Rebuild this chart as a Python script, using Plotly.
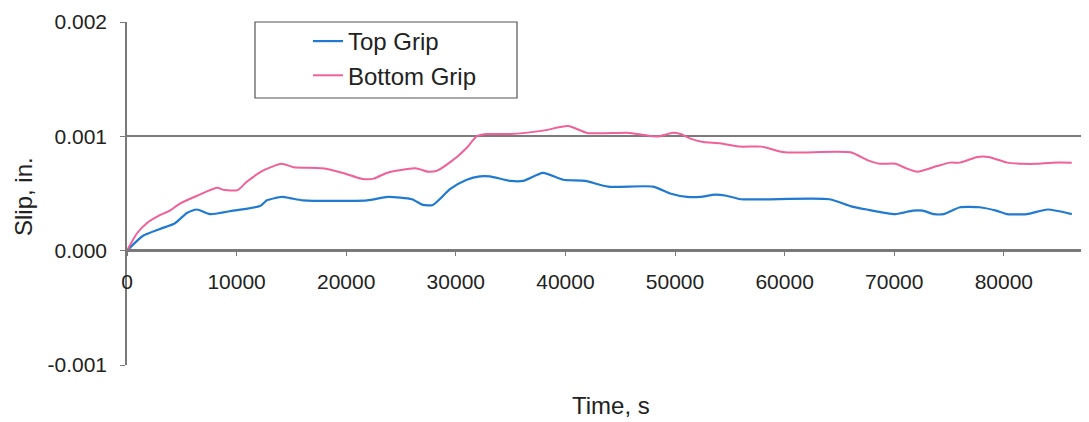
import plotly.graph_objects as go

# ---- data ----
top_t = [0, 1460, 3000, 4380, 5470, 6380, 7570, 9700, 12140, 12770, 14140, 14870, 16060,
         21900, 23800, 26000, 27000, 27900, 29500, 31000, 32200, 33100, 34950, 36150,
         37950, 39800, 41800, 43900, 48000, 49550, 51100, 52300, 53650, 54700, 56000,
         64100, 66000, 67500, 70100, 71700, 72600, 73600, 74500, 76000, 77800, 79300,
         80300, 82100, 84000, 86200]
top_v = [0.0, 0.00013, 0.00019, 0.00024, 0.00033, 0.00036, 0.00032, 0.00035, 0.00039, 0.00044,
         0.00047, 0.00046, 0.00044, 0.00044, 0.00047, 0.00045, 0.00040, 0.00040, 0.00054,
         0.00062, 0.00065, 0.00065, 0.00061, 0.00061, 0.00068, 0.00062, 0.00061, 0.00056,
         0.00056, 0.00050, 0.00047, 0.00047, 0.00049, 0.00048, 0.00045, 0.00045, 0.00039,
         0.00036, 0.00032, 0.00035, 0.00035, 0.00032, 0.00032, 0.00038, 0.00038, 0.00035,
         0.00032, 0.00032, 0.00036, 0.00032]

bot_t = [0, 900, 1800, 3000, 3900, 4800, 6400, 8200, 8900, 10100, 10900, 12400, 14100, 15200,
         17800, 19700, 21400, 22500, 23700, 26300, 27500, 28300, 30100, 31000, 31900, 32800,
         34950, 37950, 40250, 42000, 45900, 48000, 48600, 49700, 50500, 51400, 52600, 54100,
         55900, 57900, 60000, 66000, 67600, 68700, 70100, 71100, 72100, 73900, 75100, 76000,
         77600, 78600, 80300, 81800, 83000, 84400, 86200]
bot_v = [0.0, 0.00015, 0.00024, 0.00031, 0.00035, 0.00041, 0.00048, 0.00055, 0.00053, 0.00053,
         0.00060, 0.00070, 0.00076, 0.00073, 0.00072, 0.00068, 0.00063, 0.00063, 0.00068,
         0.00072, 0.00069, 0.00070, 0.00082, 0.00090, 0.00100, 0.00102, 0.00102, 0.00105,
         0.00109, 0.00103, 0.00103, 0.00100, 0.00100, 0.00103, 0.00102, 0.00098, 0.00095,
         0.00094, 0.00091, 0.00091, 0.00086, 0.00086, 0.00079, 0.00076, 0.00076, 0.00072,
         0.00069, 0.00074, 0.00077, 0.00077, 0.00082, 0.00082, 0.00077, 0.00076, 0.00076,
         0.00077, 0.00077]

x_ticks = [0, 10000, 20000, 30000, 40000, 50000, 60000, 70000, 80000]
y_ticks = [-0.001, 0.0, 0.001, 0.002]
y_labels = ["-0.001", "0.000", "0.001", "0.002"]

FONT = "Liberation Sans, Arial, sans-serif"
TXT = "#222222"
GRID = "#7a7a7a"

fig = go.Figure()
fig.add_trace(go.Scatter(x=top_t, y=top_v, mode="lines", name="Top Grip",
                         line=dict(color="#1f7ad0", width=2.2, shape="spline", smoothing=0.6),
                         legendgroup="a"))
fig.add_trace(go.Scatter(x=bot_t, y=bot_v, mode="lines", name="Bottom Grip",
                         line=dict(color="#f0609a", width=2.0, shape="spline", smoothing=0.6),
                         legendgroup="b"))

# page has an 8px body margin: figure occupies page x 8..1089, y 8..422
OFF = 8
W, H = 1089 - OFF, 422 - OFF
L, R, T = 127 - OFF, 0, 22 - OFF
B = H - (365 - OFF)
plot_w = W - L - R
plot_h = H - T - B


def px_x(page_x):
    return (page_x - OFF - L) / plot_w


def px_y(page_y):
    return (H - B - (page_y - OFF)) / plot_h


fig.update_layout(
    width=W, height=H,
    margin=dict(l=L, r=R, t=T, b=B, autoexpand=False),
    paper_bgcolor="white", plot_bgcolor="white",
    font=dict(family=FONT, size=21, color=TXT),
    showlegend=True,
    legend=dict(x=px_x(308), y=px_y(19), xanchor="left", yanchor="top",
                bgcolor="rgba(0,0,0,0)", borderwidth=0,
                font=dict(size=24, color=TXT), tracegroupgap=5,
                traceorder="normal"),
    xaxis=dict(range=[0, 87770], tickvals=x_ticks, ticktext=[str(v) for v in x_ticks],
               showgrid=False, zeroline=False, showline=True, linecolor=GRID, linewidth=1.5,
               ticks="outside", ticklen=5, tickcolor=GRID, anchor="free",
               position=px_y(250), ticklabelstandoff=8,
               tickfont=dict(size=21, color=TXT)),
    yaxis=dict(range=[-0.001, 0.002], tickvals=y_ticks, ticktext=y_labels,
               showgrid=True, gridcolor=GRID, gridwidth=1.5, zeroline=False,
               showline=True, linecolor=GRID, linewidth=1.5,
               ticks="outside", ticklen=5, tickcolor=GRID, ticklabelstandoff=9,
               tickfont=dict(size=21, color=TXT)),
    shapes=[dict(type="rect", xref="paper", yref="paper",
                 x0=px_x(255), x1=px_x(517), y0=px_y(98), y1=1.0,
                 line=dict(color="#555555", width=1.2), fillcolor="rgba(0,0,0,0)")],
    annotations=[
        dict(text="Slip, in.", xref="paper", yref="paper", x=px_x(23),
             y=px_y(197), showarrow=False, textangle=-90,
             font=dict(size=24, color=TXT), xanchor="center", yanchor="middle"),
        dict(text="Time, s", xref="paper", yref="paper", x=px_x(611),
             y=px_y(405), showarrow=False,
             font=dict(size=24, color=TXT), xanchor="center", yanchor="middle"),
    ],
)

fig.write_html("out.html")
